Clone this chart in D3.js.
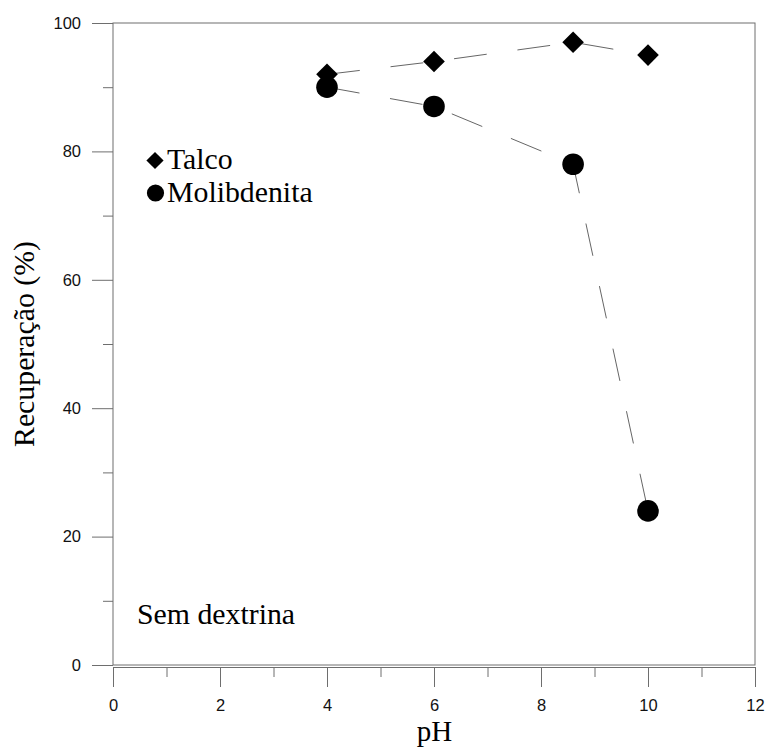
<!DOCTYPE html>
<html>
<head>
<meta charset="utf-8">
<script src="https://cdn.jsdelivr.net/npm/d3@7"></script>
<style>
  html, body { margin: 0; padding: 0; background: #fff; }
  svg { display: block; }
</style>
</head>
<body>
<script>
// pH values and recovery (%) for each mineral
const phValues = [4, 6, 8.6, 10];
const talcoRecovery = [92, 94, 97, 95];
const molibdenitaRecovery = [90, 87, 78, 24];
const seriesNames = ["Talco", "Molibdenita"];
const xTicks = [0, 2, 4, 6, 8, 10, 12];
const yTicks = [0, 20, 40, 60, 80, 100];

const W = 766, H = 747;
const plotLeft = 113, plotRight = 755, plotTop = 23, plotBottom = 665;

const svg = d3.select("body").append("svg")
  .attr("width", W).attr("height", H);

const x = d3.scaleLinear().domain([0, 12]).range([plotLeft, plotRight]);
const y = d3.scaleLinear().domain([0, 100]).range([plotBottom, plotTop]);

const axisColor = "#6e6e6e";
const tickFont = "'Liberation Sans', Arial, sans-serif";
const titleFont = "'Liberation Serif', 'Times New Roman', serif";
const titleSize = 29.8;

// plot frame
svg.append("rect")
  .attr("x", plotLeft).attr("y", plotTop)
  .attr("width", plotRight - plotLeft).attr("height", plotBottom - plotTop)
  .attr("fill", "none").attr("stroke", axisColor).attr("stroke-width", 1);

// x axis sits just below the frame, ticks pointing down
const xAxisY = plotBottom + 2;
const xMajor = d3.axisBottom(x).tickValues(xTicks).tickSize(20).tickPadding(12.5)
  .tickFormat(d3.format("d"));
const xMinor = d3.axisBottom(x).tickValues(d3.range(1, 12, 2)).tickSize(10).tickFormat("");
const gx = svg.append("g").attr("transform", `translate(0,${xAxisY})`).call(xMajor);
const gxm = svg.append("g").attr("transform", `translate(0,${xAxisY})`).call(xMinor);
gxm.select(".domain").remove();

// y axis on the left, ticks pointing outwards
const yMajor = d3.axisLeft(y).tickValues(yTicks).tickSize(21).tickPadding(11)
  .tickFormat(d3.format("d"));
const yMinor = d3.axisLeft(y).tickValues(d3.range(10, 100, 20)).tickSize(10).tickFormat("");
const gy = svg.append("g").attr("transform", `translate(${plotLeft},0)`).call(yMajor);
const gym = svg.append("g").attr("transform", `translate(${plotLeft},0)`).call(yMinor);
gym.select(".domain").remove();
gy.select(".domain").remove();

[gx, gxm, gy, gym].forEach(g => {
  g.selectAll("path.domain").attr("stroke", axisColor);
  g.selectAll(".tick line").attr("stroke", axisColor).attr("stroke-width", 1);
  g.selectAll(".tick text")
    .attr("font-family", tickFont).attr("font-size", 16.5).attr("fill", "#111");
});
gx.select(".domain").attr("d", `M${plotLeft},0.5H${plotRight}`);

// dashed connecting lines
const line = d3.line().x(d => x(d[0])).y(d => y(d[1]));
const talcoPts = phValues.map((p, i) => [p, talcoRecovery[i]]);
const molyPts = phValues.map((p, i) => [p, molibdenitaRecovery[i]]);

[talcoPts, molyPts].forEach(pts => {
  svg.append("path").datum(pts).attr("d", line)
    .attr("fill", "none").attr("stroke", "#666").attr("stroke-width", 1)
    .attr("stroke-dasharray", "33,31");
});

// markers
const dHalf = 10.8;
svg.append("g").selectAll("path").data(talcoPts).join("path")
  .attr("d", d3.symbol().type(d3.symbolSquare).size(2 * dHalf * dHalf)())
  .attr("transform", d => `translate(${x(d[0])},${y(d[1])}) rotate(45)`)
  .attr("fill", "#000");

svg.append("g").selectAll("circle").data(molyPts).join("circle")
  .attr("cx", d => x(d[0])).attr("cy", d => y(d[1])).attr("r", 10.8)
  .attr("fill", "#000");

// legend
const lHalf = 8.6;
svg.append("path")
  .attr("d", d3.symbol().type(d3.symbolSquare).size(2 * lHalf * lHalf)())
  .attr("transform", `translate(155,160.5) rotate(45)`).attr("fill", "#000");
svg.append("circle").attr("cx", 155.5).attr("cy", 193).attr("r", 8.6).attr("fill", "#000");

const legendText = svg.append("g")
  .attr("font-family", titleFont).attr("font-size", titleSize).attr("fill", "#000");
legendText.append("text").attr("x", 167).attr("y", 169).text(seriesNames[0]);
legendText.append("text").attr("x", 167).attr("y", 202).text(seriesNames[1]);

// annotation
svg.append("text").attr("x", 137).attr("y", 624)
  .attr("font-family", titleFont).attr("font-size", titleSize).attr("fill", "#000")
  .text("Sem dextrina");

// axis titles
svg.append("text").attr("x", (plotLeft + plotRight) / 2 + 0.5).attr("y", 740.5)
  .attr("text-anchor", "middle")
  .attr("font-family", titleFont).attr("font-size", 29).attr("fill", "#000")
  .text("pH");

svg.append("text")
  .attr("transform", "translate(34,344) rotate(-90)")
  .attr("text-anchor", "middle")
  .attr("font-family", titleFont).attr("font-size", titleSize).attr("fill", "#000")
  .text("Recuperação (%)");
</script>
</body>
</html>
